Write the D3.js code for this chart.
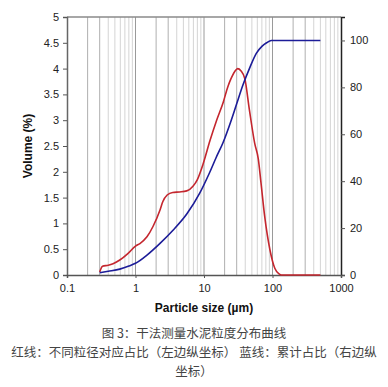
<!DOCTYPE html>
<html>
<head>
<meta charset="utf-8">
<script src="https://cdn.jsdelivr.net/npm/d3@7"></script>
<style>
  body { margin: 0; background: #fff; }
  svg { display: block; font-family: "Liberation Sans", Arial, sans-serif; }
</style>
</head>
<body>
<svg id="chart" width="388" height="387"></svg>
<script>
// red curve: volume per size class (left axis)
var volSize = [0.3, 0.33, 0.4, 0.47, 0.59, 0.78, 1.0, 1.16, 1.47, 1.8, 2.28, 2.5, 2.9, 3.5, 4.4, 5.6, 6.9, 8.0, 9.7, 12.2, 15.3, 19.1, 22.3, 24.7, 28.3, 31, 34.5, 39.5, 46, 55, 62, 68, 77, 92, 108, 125, 135, 500];
var volValue = [0.06, 0.17, 0.19, 0.22, 0.29, 0.42, 0.56, 0.61, 0.74, 0.94, 1.26, 1.42, 1.55, 1.6, 1.61, 1.63, 1.72, 1.85, 2.15, 2.6, 3.0, 3.35, 3.65, 3.8, 3.95, 4.0, 3.96, 3.8, 3.2, 2.55, 2.25, 1.78, 1.13, 0.48, 0.13, 0.02, 0, 0];

// blue curve: cumulative (right axis)
var cumSize = [0.3, 0.4, 0.59, 0.8, 1.0, 1.47, 2.28, 3.5, 5.6, 8.7, 12, 15, 19, 25, 30, 37, 46, 58, 70, 82, 96, 500];
var cumValue = [1, 1.6, 2.5, 3.8, 5, 8.5, 13.5, 19, 26, 35, 43.5, 50, 56.5, 66, 73, 81, 88, 94.5, 97.5, 99, 100, 100];

var xTicks = [0.1, 1, 10, 100, 1000];
var leftTicks = [0, 0.5, 1, 1.5, 2, 2.5, 3, 3.5, 4, 4.5, 5];
var rightTicks = [0, 20, 40, 60, 80, 100];

var captionLines = [
  "图 3：干法测量水泥粒度分布曲线",
  "红线：不同粒径对应占比（左边纵坐标） 蓝线：累计占比（右边纵",
  "坐标）"
];

var svg = d3.select("#chart");
var mLeft = 67, mRight = 341, mTop = 17, mBottom = 275;

var x = d3.scaleLog().domain([0.1, 1000]).range([mLeft, mRight]);
var yL = d3.scaleLinear().domain([0, 5]).range([mBottom, mTop]);
var yR = d3.scaleLinear().domain([0, 110]).range([mBottom, mTop]);

// vertical grid lines at every log step
var grid = [];
[0.1, 1, 10, 100].forEach(function(d) {
  for (var k = 2; k <= 9; k++) grid.push({v: d * k, k: k});
  grid.push({v: d * 10, k: 1});
});
grid = grid.filter(function(g) { return g.v < 1000; });

svg.append("g").selectAll("line")
  .data(grid)
  .enter().append("line")
  .attr("x1", function(d) { return x(d.v); })
  .attr("x2", function(d) { return x(d.v); })
  .attr("y1", mTop).attr("y2", mBottom)
  .attr("stroke", function(d) { return d.k === 1 ? "#9a9a9a" : (d.k <= 3 ? "#b0b0b0" : "#d4d4d4"); })
  .attr("stroke-width", 1);

// frame
svg.append("line").attr("x1", mLeft).attr("x2", mRight).attr("y1", mTop).attr("y2", mTop)
  .attr("stroke", "#8a8a8a").attr("stroke-width", 1.5);

// axes
var axL = svg.append("g").attr("transform", "translate(" + mLeft + ",0)")
  .call(d3.axisLeft(yL).tickValues(leftTicks).tickSize(4).tickPadding(4)
    .tickFormat(function(d) { return d; }));
var axR = svg.append("g").attr("transform", "translate(" + mRight + ",0)")
  .call(d3.axisRight(yR).tickValues(rightTicks).tickSize(4).tickPadding(5));
var axB = svg.append("g").attr("transform", "translate(0," + mBottom + ")")
  .call(d3.axisBottom(x).tickValues(xTicks).tickSize(3).tickPadding(6)
    .tickFormat(function(d) { return d; }));

[axL, axR, axB].forEach(function(a) {
  a.selectAll("text").attr("font-size", 11).attr("fill", "#222")
    .attr("font-family", "Liberation Sans, Arial, sans-serif");
  a.selectAll(".tick line").attr("stroke", "#555");
});
axL.select(".domain").attr("stroke", "#666").attr("stroke-width", 1.5);
axB.select(".domain").attr("stroke", "#555").attr("stroke-width", 1.5);
axR.select(".domain").attr("stroke", "#222").attr("stroke-width", 1.5);

// curves
var redLine = d3.line()
  .x(function(d, i) { return x(volSize[i]); })
  .y(function(d) { return yL(d); })
  .curve(d3.curveMonotoneX);

var blueLine = d3.line()
  .x(function(d, i) { return x(cumSize[i]); })
  .y(function(d) { return yR(d); })
  .curve(d3.curveMonotoneX);

svg.append("path").datum(volValue)
  .attr("d", redLine)
  .attr("fill", "none").attr("stroke", "#c4262e").attr("stroke-width", 1.6);

svg.append("path").datum(cumValue)
  .attr("d", blueLine)
  .attr("fill", "none").attr("stroke", "#1c1c98").attr("stroke-width", 1.6);

// axis titles
svg.append("text")
  .attr("transform", "translate(32," + ((mTop + mBottom) / 2) + ") rotate(-90)")
  .attr("text-anchor", "middle")
  .attr("font-size", 12).attr("font-weight", "bold").attr("fill", "#111")
  .text("Volume (%)");

svg.append("text")
  .attr("x", (mLeft + mRight) / 2).attr("y", 312)
  .attr("text-anchor", "middle")
  .attr("font-size", 12).attr("font-weight", "bold").attr("fill", "#111")
  .text("Particle size (µm)");

// caption
svg.append("g").selectAll("text")
  .data(captionLines)
  .enter().append("text")
  .attr("x", 194)
  .attr("y", function(d, i) { return 338 + i * 19; })
  .attr("text-anchor", "middle")
  .attr("font-family", "Noto Sans CJK SC, sans-serif")
  .attr("font-size", 12.5)
  .attr("fill", "#444")
  .text(function(d) { return d; });
</script>
</body>
</html>
